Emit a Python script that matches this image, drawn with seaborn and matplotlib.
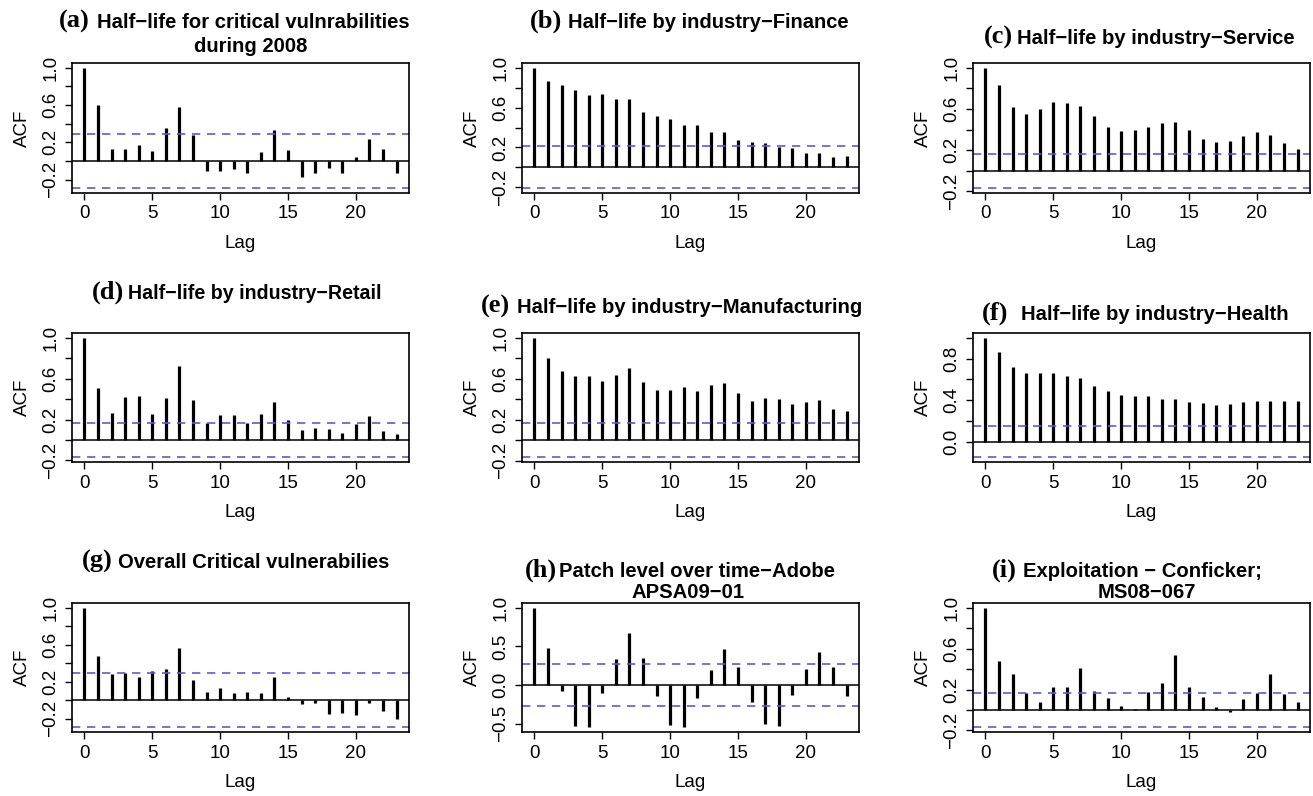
import matplotlib
matplotlib.use("Agg")
import matplotlib.pyplot as plt
import seaborn as sns

# ---- data: sample autocorrelations at lags 0..23 and the 95% bound ----
lags = list(range(24))

acf_a = [1.0, 0.60, 0.125, 0.13, 0.17, 0.107, 0.357, 0.58, 0.28, -0.107, -0.107, -0.086,
         -0.125, 0.10, 0.33, 0.114, -0.17, -0.13, -0.075, -0.125, 0.043, 0.24, 0.125, -0.13]
acf_b = [1.0, 0.867, 0.83, 0.777, 0.723, 0.74, 0.683, 0.687, 0.557, 0.517, 0.483, 0.427,
         0.423, 0.357, 0.353, 0.27, 0.257, 0.243, 0.207, 0.197, 0.14, 0.14, 0.103, 0.117]
acf_c = [1.0, 0.835, 0.62, 0.55, 0.60, 0.665, 0.66, 0.63, 0.53, 0.425, 0.39, 0.397,
         0.43, 0.468, 0.477, 0.40, 0.31, 0.277, 0.29, 0.342, 0.38, 0.348, 0.268, 0.213]
acf_d = [1.0, 0.513, 0.261, 0.42, 0.426, 0.252, 0.41, 0.72, 0.39, 0.171, 0.248, 0.248,
         0.165, 0.258, 0.374, 0.197, 0.097, 0.119, 0.106, 0.071, 0.158, 0.235, 0.087, 0.061]
acf_e = [1.0, 0.806, 0.677, 0.629, 0.623, 0.574, 0.635, 0.703, 0.568, 0.487, 0.49, 0.516,
         0.477, 0.542, 0.558, 0.465, 0.384, 0.41, 0.406, 0.355, 0.371, 0.397, 0.31, 0.281]
acf_f = [1.0, 0.863, 0.722, 0.658, 0.661, 0.665, 0.636, 0.61, 0.54, 0.489, 0.447, 0.441,
         0.438, 0.415, 0.415, 0.387, 0.371, 0.351, 0.361, 0.38, 0.39, 0.396, 0.396, 0.39]
acf_g = [1.0, 0.477, 0.28, 0.29, 0.25, 0.316, 0.337, 0.57, 0.22, 0.091, 0.134, 0.08,
         0.091, 0.073, 0.25, 0.037, -0.04, -0.03, -0.15, -0.14, -0.165, -0.028, -0.117, -0.20]
acf_h = [1.0, 0.477, -0.077, -0.523, -0.536, -0.102, 0.336, 0.668, 0.349, -0.14, -0.519, -0.545,
         -0.162, 0.191, 0.468, 0.238, -0.213, -0.498, -0.523, -0.123, 0.213, 0.434, 0.234, -0.136]
acf_i = [1.0, 0.484, 0.347, 0.162, 0.078, 0.227, 0.221, 0.409, 0.188, 0.114, 0.039, 0.01,
         0.175, 0.263, 0.536, 0.224, 0.13, 0.029, -0.02, 0.104, 0.162, 0.347, 0.156, 0.081]

bounds = [0.293, 0.21, 0.168, 0.168, 0.165, 0.148, 0.293, 0.268, 0.169]

letters = ["(a)", "(b)", "(c)", "(d)", "(e)", "(f)", "(g)", "(h)", "(i)"]
titles = [
    ["Half\u2212life for critical vulnrabilities", "during 2008"],
    ["Half\u2212life by industry\u2212Finance"],
    ["Half\u2212life by industry\u2212Service"],
    ["Half\u2212life by industry\u2212Retail"],
    ["Half\u2212life by industry\u2212Manufacturing"],
    ["Half\u2212life by industry\u2212Health"],
    ["Overall Critical vulnerabilies"],
    ["Patch level over time\u2212Adobe", "APSA09\u221201"],
    ["Exploitation \u2212 Conficker;", "MS08\u2212067"],
]
x_ticks = [0, 5, 10, 15, 20]
y_ticks_02 = [-0.2, 0.0, 0.2, 0.4, 0.6, 0.8, 1.0]
y_labels_02 = ["\u22120.2", "", "0.2", "", "0.6", "", "1.0"]
y_ticks_f = [0.0, 0.2, 0.4, 0.6, 0.8, 1.0]
y_labels_f = ["0.0", "", "0.4", "", "0.8", ""]
y_ticks_h = [-0.5, 0.0, 0.5, 1.0]
y_labels_h = ["\u22120.5", "0.0", "0.5", "1.0"]

series = [acf_a, acf_b, acf_c, acf_d, acf_e, acf_f, acf_g, acf_h, acf_i]

# ---- layout (pixel boxes of each plot region) ----
W, H = 1313, 796
col_x = [(72, 409), (522, 859), (973, 1310)]
row_y = [(63, 193), (333, 462), (603, 732)]

# title placement: (body left x, baseline y, body size, second line centre x, second baseline)
title_pos = [
    (97, 28, 14.6, 251, 52),
    (568, 28, 14.5, None, None),
    (1017, 44, 14.6, None, None),
    (128, 299, 14.1, None, None),
    (517, 313, 14.6, None, None),
    (1021, 320, 14.6, None, None),
    (118, 568, 14.6, None, None),
    (559, 577, 14.6, 688, 598),
    (1023, 577, 14.6, 1147, 598),
]
letter_gap = [7, 6, 4, 4, 7, 13, 5, 2, 6]

sns.set_theme(style="ticks")
plt.rcParams["font.family"] = ["Liberation Sans", "DejaVu Sans"]
plt.rcParams["axes.unicode_minus"] = True
for key in ("text.color", "axes.labelcolor", "xtick.color", "ytick.color", "axes.edgecolor"):
    plt.rcParams[key] = "black"

fig = plt.figure(figsize=(W / 100, H / 100), dpi=100)
fig.patch.set_facecolor("white")

ci_color = "#5b5bd6"

for k, acf in enumerate(series):
    r, c = divmod(k, 3)
    x0, x1 = col_x[c]
    y0, y1 = row_y[r]
    ax = fig.add_axes([x0 / W, 1 - y1 / H, (x1 - x0) / W, (y1 - y0) / H])
    ax.set_facecolor("white")
    ci = bounds[k]

    ax.vlines(lags, 0, acf, colors="black", linewidth=2.3, capstyle="butt")
    ax.axhline(0, color="black", linewidth=1.1)
    for b in (ci, -ci):
        ax.axhline(b, color=ci_color, linewidth=1.2, linestyle=(0, (5, 4)))

    lo = min(min(acf), -ci)
    hi = max(max(acf), ci)
    pad = 0.04 * (hi - lo)
    ax.set_ylim(lo - pad, hi + pad)
    ax.set_xlim(-0.92, 23.92)

    ax.set_xticks(x_ticks)
    ax.set_xticklabels([str(t) for t in x_ticks])
    if k == 7:
        ax.set_yticks(y_ticks_h)
        ax.set_yticklabels(y_labels_h)
    elif k == 5:
        ax.set_yticks(y_ticks_f)
        ax.set_yticklabels(y_labels_f)
    else:
        ax.set_yticks(y_ticks_02)
        ax.set_yticklabels(y_labels_02)

    ax.tick_params(axis="both", direction="out", length=5, width=1.0,
                   colors="black", labelsize=13.5, pad=4)
    ax.tick_params(axis="y", labelrotation=90)
    for lab in ax.get_yticklabels():
        lab.set_verticalalignment("center")
    for sp in ax.spines.values():
        sp.set_visible(True)
        sp.set_color("black")
        sp.set_linewidth(1.2)

    ax.set_ylabel("ACF", fontsize=13.5, labelpad=8)
    ax.set_xlabel("Lag", fontsize=13.5, labelpad=9)

    bx, by, bsize, sx, sy = title_pos[k]
    fig.text(bx / W, 1 - by / H, titles[k][0], ha="left", va="baseline",
             fontsize=bsize, fontweight="bold")
    fig.text((bx - letter_gap[k]) / W, 1 - by / H, letters[k], ha="right", va="baseline",
             fontsize=19, fontweight="bold", family="Liberation Serif")
    if sx is not None:
        fig.text(sx / W, 1 - sy / H, titles[k][1], ha="center", va="baseline",
                 fontsize=bsize, fontweight="bold")

fig.savefig("out.png", dpi=100, facecolor="white")
